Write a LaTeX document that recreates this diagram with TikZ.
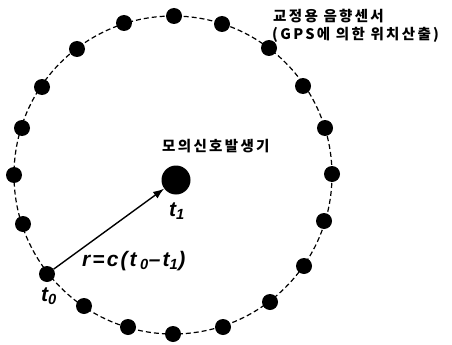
\documentclass[tikz,border=0pt]{standalone}
\usepackage{fontspec}
\setmainfont{Liberation Sans}
\newfontfamily\kr[LetterSpace=16]{Noto Sans CJK KR}
\newfontfamily\mf[LetterSpace=10]{Liberation Sans}
\usetikzlibrary{arrows.meta}
\begin{document}
\begin{tikzpicture}[x=1pt,y=-1pt,
  sdot/.style={circle,fill=black,inner sep=0pt,minimum size=16pt},
  bigdot/.style={circle,fill=black,inner sep=0pt,minimum size=29pt},
  ring/.style={dash pattern=on 5pt off 3pt,line width=1.2pt},
  krlabel/.style={font=\kr\bfseries\fontsize{14.5}{16}\selectfont,inner sep=0pt,anchor=west},
  mlabel/.style={font=\mf\bfseries\itshape\fontsize{21}{23}\selectfont,inner sep=0pt},
  ray/.style={line width=1.4pt,-{Latex[length=11pt,width=8pt]}}]
\useasboundingbox (0,0) rectangle (452,345);
\fill[white] (0,0) rectangle (452,345);
\coordinate (c) at (173,175);
\draw[ring] (c) circle[radius=159];
\foreach \n/\px/\py in {1/174/16,2/222/24,3/269/48,4/303/86,5/325/128,6/332/174,
  7/324/221,8/304/266,9/270/302,10/223/327,11/173/334,12/128/327,13/84/306,
  14/47/274,15/23/224,16/14/175,17/22/128,18/42/87,19/77/49,20/124/23}
  \node[sdot] (d\n) at (\px,\py) {};
\node[bigdot] (src) at (176,180) {};
\draw[ray] (d14) -- (src);
\node[krlabel] (l1) at (273,16) {교정용 음향센서};
\node[krlabel] (l2) at (272,35) {(GPS에 의한 위치산출)};
\node[krlabel] (l3) at (162,146) {모의신호발생기};
\node[mlabel] (t1) at (177,211) {t\textsubscript{1}};
\node[mlabel] (t0) at (49,296) {t\textsubscript{0}};
\node[mlabel,anchor=west] (eq) at (82,261) {r=c(t\,\textsubscript{0}\textendash t\textsubscript{1})};
\end{tikzpicture}
\end{document}
